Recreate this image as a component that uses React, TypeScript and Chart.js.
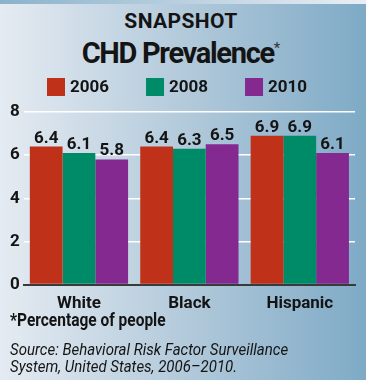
import React, { useEffect, useRef } from "react";
import { Chart, registerables } from "chart.js";

Chart.register(...registerables);

const categories = ["White", "Black", "Hispanic"];
const seriesNames = ["2006", "2008", "2010"];
const values2006 = [6.4, 6.4, 6.9];
const values2008 = [6.1, 6.3, 6.9];
const values2010 = [5.8, 6.5, 6.1];
const yTicks = [0, 2, 4, 6, 8];

const colors = ["#c0311a", "#008b68", "#83298f"];
const FONT = "Roboto, 'Liberation Sans', sans-serif";
const TEXT = "#141414";

const valueLabels = {
  id: "valueLabels",
  afterDatasetsDraw(chart: any) {
    const ctx = chart.ctx;
    ctx.save();
    ctx.font = `bold 17px ${FONT}`;
    ctx.fillStyle = TEXT;
    ctx.textAlign = "center";
    ctx.textBaseline = "alphabetic";
    chart.data.datasets.forEach((ds: any, i: number) => {
      const meta = chart.getDatasetMeta(i);
      meta.data.forEach((bar: any, j: number) => {
        ctx.fillText(Number(ds.data[j]).toFixed(1), bar.x, bar.y - 4);
      });
    });
    ctx.restore();
  },
};

// legend row drawn on the canvas from the datasets
const rowLegend = {
  id: "rowLegend",
  afterDraw(chart: any) {
    const ctx = chart.ctx;
    const box = 18;
    const gapText = 5;
    const gapItem = 37;
    const top = 78;
    const centerX = 177;
    ctx.save();
    ctx.font = `bold 17px ${FONT}`;
    ctx.textBaseline = "middle";
    ctx.textAlign = "left";
    const items = chart.data.datasets.map((ds: any) => ({
      label: ds.label,
      color: ds.backgroundColor,
      w: box + gapText + ctx.measureText(ds.label).width,
    }));
    const total = items.reduce((s: number, it: any) => s + it.w, 0) + gapItem * (items.length - 1);
    let x = Math.round(centerX - total / 2);
    items.forEach((it: any) => {
      ctx.fillStyle = it.color;
      ctx.fillRect(x, top, box, box);
      ctx.fillStyle = TEXT;
      ctx.fillText(it.label, x + box + gapText, top + box / 2 + 1);
      x += it.w + gapItem;
    });
    ctx.restore();
  },
};

export default function App() {
  const ref = useRef<HTMLCanvasElement | null>(null);
  useEffect(() => {
    document.body.style.margin = "0";
    if (!ref.current) return;
    const chart = new Chart(ref.current, {
      type: "bar",
      data: {
        labels: categories,
        datasets: [values2006, values2008, values2010].map((d, i) => ({
          label: seriesNames[i],
          data: d,
          backgroundColor: colors[i],
          borderWidth: 0,
          categoryPercentage: 0.89,
          barPercentage: 1,
        })),
      },
      plugins: [valueLabels, rowLegend],
      options: {
        responsive: false,
        animation: false,
        devicePixelRatio: 1,
        layout: { padding: { left: 6, right: 11, top: 112, bottom: 65 } },
        plugins: {
          title: { display: false },
          tooltip: { enabled: false },
          legend: { display: false },
        },
        scales: {
          x: {
            grid: { display: false },
            border: { display: true, color: "#3a3a3a", width: 2 },
            ticks: { color: TEXT, font: { family: FONT, size: 17, weight: "bold" }, padding: 1 },
          },
          y: {
            min: 0,
            max: 8,
            afterBuildTicks: (axis: any) => {
              axis.ticks = yTicks.map((v) => ({ value: v }));
            },
            grid: {
              color: (c: any) => (c.tick && c.tick.value === 0 ? "rgba(0,0,0,0)" : "#ffffff"),
              lineWidth: 1.5,
              drawTicks: false,
            },
            border: { display: false },
            ticks: {
              color: TEXT,
              autoSkip: false,
              font: { family: FONT, size: 17, weight: "bold" },
              padding: 4,
            },
          },
        },
      },
    } as any);
    return () => chart.destroy();
  }, []);

  return (
    <div
      style={{
        position: "relative",
        width: 366,
        height: 380,
        overflow: "hidden",
        background: "linear-gradient(to right, #e5ebf2 0%, #b3cadb 50%, #7eaac6 100%)",
        fontFamily: FONT,
        color: TEXT,
      }}
    >
      <div
        style={{
          position: "absolute",
          left: 0,
          top: 0,
          width: 366,
          height: 4,
          background: "linear-gradient(to right, #8ab2cb, #e9eef4)",
        }}
      />
      <div
        style={{
          position: "absolute",
          left: 0,
          top: 11,
          width: 362,
          textAlign: "center",
          fontWeight: "bold",
          fontSize: 21,
          lineHeight: "21px",
          letterSpacing: 0.4,
        }}
      >
        SNAPSHOT
      </div>
      <div
        style={{
          position: "absolute",
          left: 0,
          top: 34,
          width: 362,
          textAlign: "center",
          fontWeight: "bold",
          fontSize: 29,
          lineHeight: "29px",
          letterSpacing: -1.3,
        }}
      >
        CHD Prevalence
        <span style={{ fontWeight: "normal", fontSize: 15, color: "#333", verticalAlign: 10, letterSpacing: 0 }}>
          *
        </span>
      </div>
      <canvas
        ref={ref}
        width={366}
        height={380}
        style={{ position: "absolute", left: 0, top: 0, width: 366, height: 380 }}
      />
      <div
        style={{
          position: "absolute",
          left: 10,
          top: 311,
          fontWeight: "bold",
          fontSize: 18,
          lineHeight: "18px",
          whiteSpace: "nowrap",
          transform: "scaleX(0.86)",
          transformOrigin: "left top",
        }}
      >
        *Percentage of people
      </div>
      <div
        style={{
          position: "absolute",
          left: 10,
          top: 341,
          fontStyle: "italic",
          fontSize: 16.5,
          lineHeight: "17px",
          whiteSpace: "nowrap",
          transform: "scaleX(0.91)",
          transformOrigin: "left top",
        }}
      >
        Source: Behavioral Risk Factor Surveillance
        <br />
        System, United States, 2006–2010.
      </div>
    </div>
  );
}
